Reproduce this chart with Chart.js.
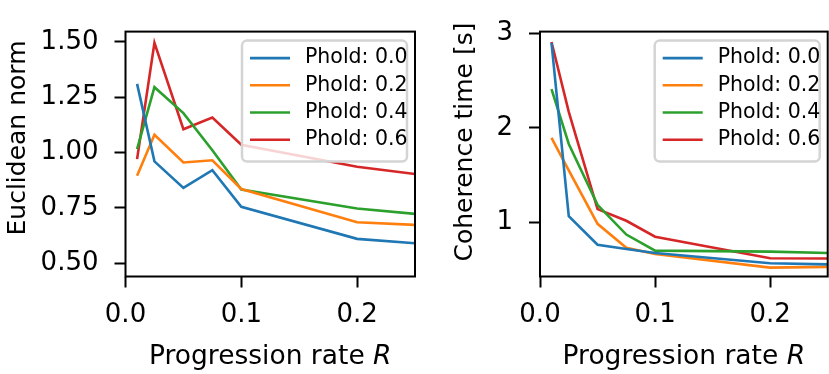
<!DOCTYPE html>
<html>
<head>
<meta charset="utf-8">
<script src="https://cdn.jsdelivr.net/npm/chart.js@4.4.1/dist/chart.umd.min.js"></script>
<style>
    html, body { margin: 0; padding: 0; background: #fff; }
    #wrap { position: relative; width: 829px; height: 374px; overflow: hidden; }
    canvas { position: absolute; top: 0; }
</style>
</head>
<body>
<div id="wrap">
    <canvas id="norm" width="420" height="374" style="left:0px"></canvas>
    <canvas id="coherence" width="409" height="374" style="left:420px"></canvas>
</div>
<script>
// progression rate R
const rates = [0.01, 0.025, 0.05, 0.075, 0.1, 0.2, 0.25];
const pholdLabels = ["Phold: 0.0", "Phold: 0.2", "Phold: 0.4", "Phold: 0.6"];
const colors = ["#1f77b4", "#ff7f0e", "#2ca02c", "#d62728"];

// Euclidean norm
const norm00 = [1.31, 0.96, 0.84, 0.92, 0.755, 0.61, 0.59];
const norm02 = [0.895, 1.08, 0.955, 0.965, 0.835, 0.685, 0.673];
const norm04 = [1.015, 1.295, 1.178, 1.01, 0.833, 0.747, 0.723];
const norm06 = [0.97, 1.495, 1.105, 1.158, 1.035, 0.936, 0.903];

// Coherence time [s]
const coh00 = [2.9, 1.065, 0.763, 0.717, 0.675, 0.567, 0.554];
const coh02 = [1.894, 1.55, 0.984, 0.73, 0.665, 0.52, 0.528];
const coh04 = [2.41, 1.83, 1.185, 0.87, 0.70, 0.69, 0.675];
const coh06 = [2.91, 2.17, 1.14, 1.016, 0.847, 0.62, 0.617];

const xTicks = [0.0, 0.1, 0.2];
const normTicks = [0.50, 0.75, 1.00, 1.25, 1.50];
const cohTicks = [1, 2, 3];

const FONT = "'DejaVu Sans', sans-serif";

Chart.defaults.color = "#000";
Chart.defaults.font.family = FONT;

// box, legend and axis titles drawn on top of the chart
const framePlugin = {
    id: "frame",
    afterDraw(chart, args, opts) {
        const ctx = chart.ctx;
        const a = chart.chartArea;
        ctx.save();

        // spines
        ctx.strokeStyle = "#000";
        ctx.lineWidth = 2;
        ctx.strokeRect(a.left, a.top, a.right - a.left, a.bottom - a.top);

        // legend
        const w = 165, h = 121;
        const lx = a.right - 8 - w;
        const ly = a.top + 9;
        ctx.beginPath();
        ctx.roundRect(lx, ly, w, h, 5);
        ctx.fillStyle = "rgba(255,255,255,0.8)";
        ctx.fill();
        ctx.strokeStyle = "#d4d4d4";
        ctx.lineWidth = 2.5;
        ctx.stroke();
        ctx.font = "20.5px " + FONT;
        ctx.textBaseline = "middle";
        ctx.textAlign = "left";
        chart.data.datasets.forEach((ds, i) => {
            const y = ly + 17.5 + i * 27.2;
            ctx.strokeStyle = ds.borderColor;
            ctx.lineWidth = 2.6;
            ctx.beginPath();
            ctx.moveTo(lx + 8, y);
            ctx.lineTo(lx + 48, y);
            ctx.stroke();
            ctx.fillStyle = "#000";
            ctx.fillText(ds.label, lx + 63, y);
        });

        // y title
        ctx.fillStyle = "#000";
        ctx.font = "25px " + FONT;
        ctx.textAlign = "center";
        ctx.textBaseline = "alphabetic";
        ctx.save();
        ctx.translate(opts.yTitleX, opts.yTitleY);
        ctx.rotate(-Math.PI / 2);
        ctx.fillText(opts.yTitle, 0, 0);
        ctx.restore();

        // x title with italic R
        const plain = "Progression rate ";
        ctx.font = "26.5px " + FONT;
        const w1 = ctx.measureText(plain).width;
        ctx.font = "italic 26.5px " + FONT;
        const w2 = ctx.measureText("R").width;
        const x0 = (a.left + a.right) / 2 - (w1 + w2) / 2;
        ctx.textAlign = "left";
        ctx.font = "26.5px " + FONT;
        ctx.fillText(plain, x0, 364);
        ctx.font = "italic 26.5px " + FONT;
        ctx.fillText("R", x0 + w1, 364);

        ctx.restore();
    }
};

function makeDatasets(series) {
    return series.map((values, i) => ({
        label: pholdLabels[i],
        data: rates.map((r, j) => ({ x: r, y: values[j] })),
        borderColor: colors[i],
        backgroundColor: colors[i],
        borderWidth: 2.6,
        pointRadius: 0,
        tension: 0,
        fill: false
    }));
}

function makeChart(canvasId, series, y, layout) {
    const ctx = document.getElementById(canvasId).getContext("2d");
    return new Chart(ctx, {
        type: "line",
        data: { datasets: makeDatasets(series) },
        options: {
            responsive: false,
            animation: false,
            events: [],
            layout: { padding: { top: layout.top, right: layout.right, left: 0, bottom: 0 } },
            plugins: {
                legend: { display: false },
                tooltip: { enabled: false },
                frame: { yTitle: y.title, yTitleX: layout.yTitleX, yTitleY: layout.yTitleY }
            },
            scales: {
                x: {
                    type: "linear",
                    min: 0,
                    max: 0.25,
                    border: { display: false },
                    grid: { drawOnChartArea: false, tickLength: 11, tickWidth: 2, tickColor: "#000" },
                    afterFit: scale => { scale.height = 374 - layout.bottom; },
                    afterBuildTicks: scale => { scale.ticks = xTicks.map(v => ({ value: v })); },
                    ticks: {
                        padding: 12,
                        maxRotation: 0,
                        font: { size: 26 },
                        callback: v => v.toFixed(1)
                    }
                },
                y: {
                    type: "linear",
                    min: y.min,
                    max: y.max,
                    border: { display: false },
                    grid: { drawOnChartArea: false, tickLength: 11, tickWidth: 2, tickColor: "#000" },
                    afterFit: scale => { scale.width = layout.left; },
                    afterBuildTicks: scale => { scale.ticks = y.ticks.map(v => ({ value: v })); },
                    ticks: {
                        padding: 16,
                        font: { size: 26 },
                        callback: v => v.toFixed(y.digits)
                    }
                }
            }
        },
        plugins: [framePlugin]
    });
}

document.addEventListener("DOMContentLoaded", function() {
    makeChart("norm", [norm00, norm02, norm04, norm06],
        { title: "Euclidean norm", min: 0.44, max: 1.546, ticks: normTicks, digits: 2 },
        { left: 125.5, right: 5, top: 7, bottom: 276.5, yTitleX: 25, yTitleY: 138 });

    makeChart("coherence", [coh00, coh02, coh04, coh06],
        { title: "Coherence time [s]", min: 0.426, max: 3.02, ticks: cohTicks, digits: 0 },
        { left: 120, right: 1.3, top: 8, bottom: 276.5, yTitleX: 52, yTitleY: 142 });
});
</script>
</body>
</html>
